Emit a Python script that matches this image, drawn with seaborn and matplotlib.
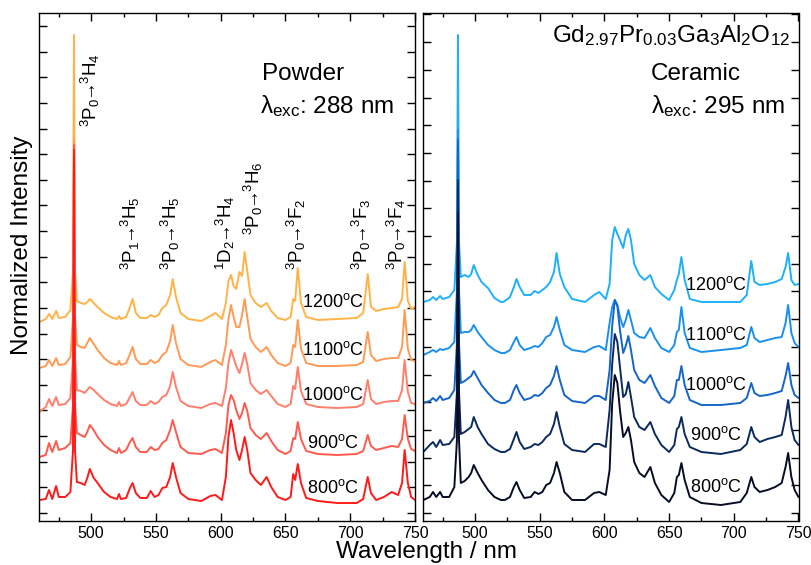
import numpy as np
import pandas as pd
import matplotlib
matplotlib.use("Agg")
import matplotlib.pyplot as plt
from matplotlib.ticker import MultipleLocator
import seaborn as sns

# Emission spectra of Gd2.97Pr0.03Ga3Al2O12, stacked by annealing temperature
wavelength = [460, 465, 467.5, 470, 473, 475, 480, 484, 486, 486.8,
              487.6, 489, 492, 495, 497, 499, 502, 505, 510, 515,
              520, 521.5, 523, 527, 530, 532, 534.5, 538, 543, 546,
              549, 552, 555, 558, 561, 563, 565.5, 569, 575, 585,
              592, 596, 601, 604, 606, 608, 610, 612, 614.5, 616.5,
              618.5, 620.5, 623, 627, 631, 635.5, 639, 644, 650, 654,
              656, 657.5, 659.5, 662, 666, 675, 690, 705, 710, 713.5,
              716, 720, 726, 732, 737, 740, 742, 744.5, 747, 750]

temperatures = [800, 900, 1000, 1100, 1200]

powder_800 = [1, 2, 11, 2, 15, 4, 4, 9, 50, 351,
              50, 19, 18, 16, 23, 32, 23, 18, 9, 4,
              2, 7, 2, 3, 13, 18, 8, 3, 3, 10,
              4, 6, 13, 14, 24, 38, 24, 8, 2, 0,
              5, 6, 1, 24, 64, 81, 68, 51, 41, 51,
              64, 51, 28, 21, 16, 24, 14, 4, 1, 4,
              27, 21, 37, 18, 3, 0, -2, -2, 2, 24,
              8, 1, 4, 9, 6, 18, 51, 18, 4, 1]
powder_900 = [-2, 0, 12, 3, 14, 5, 7, 12, 50, 310,
              50, 22, 20, 18, 23, 30, 25, 18, 10, 5,
              2, 7, 2, 5, 13, 17, 8, 3, 3, 8,
              5, 6, 12, 15, 25, 35, 23, 8, 2, 1,
              5, 6, 2, 22, 50, 60, 55, 45, 36, 42,
              52, 44, 27, 20, 16, 22, 14, 5, 1, 4,
              17, 16, 33, 16, 4, 1, 0, 1, 4, 20,
              9, 5, 7, 9, 8, 16, 40, 16, 6, 4]
powder_1000 = [-4, 1, 9, 2, 11, 3, 4, 10, 50, 263,
               50, 18, 17, 15, 18, 21, 18, 14, 8, 4,
               2, 6, 2, 4, 11, 16, 7, 3, 3, 7,
               4, 6, 11, 13, 22, 36, 21, 7, 2, 0,
               4, 5, 2, 20, 45, 58, 50, 42, 35, 44,
               55, 44, 25, 18, 14, 18, 12, 4, 1, 4,
               22, 19, 41, 17, 4, 1, 0, 1, 4, 28,
               9, 4, 6, 7, 7, 18, 48, 16, 5, 4]
powder_1100 = [-1, 1, 7, 1, 9, 2, 3, 10, 50, 227,
               50, 22, 20, 19, 24, 29, 23, 17, 9, 4,
               2, 6, 2, 4, 13, 20, 8, 3, 3, 7,
               4, 6, 12, 15, 26, 42, 24, 8, 2, 0,
               5, 7, 2, 22, 48, 62, 50, 40, 40, 52,
               68, 50, 28, 20, 15, 20, 12, 4, 1, 4,
               22, 20, 47, 18, 4, 1, 1, 2, 5, 35,
               12, 6, 8, 9, 9, 20, 57, 18, 7, 6]
powder_1200 = [-1, 2, 7, 2, 10, 3, 4, 11, 50, 286,
               50, 20, 18, 17, 19, 22, 18, 14, 8, 4,
               2, 5, 2, 4, 14, 22, 8, 3, 3, 6,
               4, 6, 13, 16, 26, 42, 24, 8, 2, 0,
               5, 8, 2, 18, 40, 46, 35, 32, 49, 45,
               69, 50, 26, 18, 14, 18, 10, 3, 1, 4,
               22, 20, 53, 18, 4, 1, 2, 3, 8, 47,
               14, 10, 12, 13, 14, 22, 59, 20, 12, 14]

ceramic_800 = [0, 3, 8, 3, 8, 3, 3, 13, 60, 287,
               60, 17, 19, 23, 27, 35, 27, 20, 10, 3,
               0, 0, 0, 3, 13, 18, 10, 2, 3, 8,
               6, 8, 15, 17, 27, 38, 27, 8, 0, 0,
               7, 8, 5, 30, 97, 125, 117, 90, 63, 67,
               73, 60, 38, 27, 23, 33, 17, 5, -2, 7,
               23, 25, 37, 20, 3, -3, -5, -2, 7, 23,
               13, 8, 10, 13, 17, 33, 47, 23, 10, 3]
ceramic_900 = [0, 7, 10, 5, 12, 7, 8, 15, 60, 272,
               60, 18, 20, 23, 25, 35, 25, 18, 8, 3,
               0, 0, 0, 3, 13, 20, 10, 3, 5, 8,
               7, 10, 15, 18, 28, 40, 25, 8, 2, 0,
               8, 8, 5, 42, 88, 118, 110, 85, 55, 58,
               70, 55, 35, 25, 22, 30, 18, 7, 0, 7,
               23, 25, 35, 18, 5, 0, -2, 2, 8, 25,
               15, 10, 13, 15, 17, 35, 52, 25, 12, 7]
ceramic_1000 = [0, 2, 5, 2, 7, 3, 5, 13, 60, 263,
                60, 20, 22, 25, 27, 32, 25, 18, 10, 3,
                0, 0, 0, 3, 13, 18, 10, 3, 5, 8,
                7, 10, 15, 18, 27, 37, 23, 8, 2, 0,
                7, 7, 3, 33, 77, 103, 97, 73, 50, 57,
                67, 53, 33, 23, 20, 28, 17, 5, 0, 7,
                23, 23, 37, 18, 3, -2, -2, 0, 5, 20,
                10, 7, 8, 10, 12, 27, 40, 18, 8, 5]
ceramic_1100 = [-5, -2, 0, -2, 1, 0, 2, 8, 60, 220,
                60, 17, 18, 18, 20, 25, 18, 13, 5, 0,
                -3, -3, -3, 0, 8, 13, 5, 0, 2, 4,
                3, 7, 13, 15, 23, 33, 20, 5, 0, -2,
                3, 4, 0, 27, 43, 50, 45, 33, 23, 30,
                40, 30, 17, 13, 12, 22, 12, 2, -2, 5,
                18, 20, 43, 17, 2, -2, 0, 2, 5, 23,
                12, 8, 10, 12, 13, 27, 45, 17, 7, 3]
ceramic_1200 = [0, 2, 5, 2, 6, 3, 5, 12, 60, 267,
                60, 25, 27, 25, 28, 37, 27, 20, 14, 4,
                0, 0, 1, 5, 15, 23, 15, 7, 7, 11,
                9, 12, 15, 20, 30, 49, 28, 15, 3, 0,
                7, 10, 3, 18, 62, 75, 68, 62, 54, 67,
                73, 62, 38, 27, 22, 27, 15, 8, 2, 12,
                22, 28, 45, 22, 3, 0, 0, 0, 7, 41,
                20, 17, 18, 20, 23, 35, 49, 22, 17, 18]

# vertical shift of each trace in the stack
powder_offsets = [12, 58, 105, 146, 192]
ceramic_offsets = [13, 61, 110, 163, 211]

powder_colors = ["#ff1a1a", "#ff5a4c", "#ff7f6c", "#ff9a55", "#ffb347"]
ceramic_colors = ["#060d24", "#0b2a5e", "#1565c8", "#1a90ee", "#1eb0f8"]

powder_label_y = [25, 70, 118, 163, 211]
ceramic_label_y = [26, 78, 128, 178, 228]

transitions = [r"$^3P_0\!\!\rightarrow\!\!^3H_4$", r"$^3P_1\!\!\rightarrow\!\!^3H_5$",
               r"$^3P_0\!\!\rightarrow\!\!^3H_5$", r"$^1D_2\!\!\rightarrow\!\!^3H_4$",
               r"$^3P_0\!\!\rightarrow\!\!^3H_6$", r"$^3P_0\!\!\rightarrow\!\!^3F_2$",
               r"$^3P_0\!\!\rightarrow\!\!^3F_3$", r"$^3P_0\!\!\rightarrow\!\!^3F_4$"]
transition_x = [499.3, 530.1, 561.0, 603.5, 625.2, 658.4, 708.6, 735.6]
transition_y = [386, 243, 243, 243, 278, 243, 243, 243]

sns.set_style("ticks")
plt.rcParams["font.family"] = ["Liberation Sans", "DejaVu Sans"]
plt.rcParams["mathtext.fontset"] = "custom"
plt.rcParams["mathtext.rm"] = "Liberation Sans"
plt.rcParams["mathtext.it"] = "Liberation Sans:italic"
plt.rcParams["mathtext.bf"] = "Liberation Sans:bold"
plt.rcParams["mathtext.default"] = "regular"
for key in ["text.color", "axes.labelcolor", "xtick.color", "ytick.color", "axes.edgecolor"]:
    plt.rcParams[key] = "black"


def stacked_frame(spectra, offsets):
    parts = []
    for t, spec, off in zip(temperatures, spectra, offsets):
        parts.append(pd.DataFrame({"wavelength": wavelength,
                                   "intensity": np.asarray(spec, float) + off,
                                   "temperature": t}))
    return pd.concat(parts, ignore_index=True)


powder = stacked_frame([powder_800, powder_900, powder_1000, powder_1100, powder_1200],
                       powder_offsets)
ceramic = stacked_frame([ceramic_800, ceramic_900, ceramic_1000, ceramic_1100, ceramic_1200],
                        ceramic_offsets)

W, H = 811, 565
fig = plt.figure(figsize=(W / 100, H / 100), dpi=100)
ax_p = fig.add_axes([39.3 / W, (H - 520.5) / H, (415 - 39.3) / W, 507.2 / H])
ax_c = fig.add_axes([423.3 / W, (H - 520.5) / H, (798.5 - 423.3) / W, 507.2 / H])

draw_order = temperatures[::-1]
for ax, df, colors, step in [(ax_p, powder, powder_colors, 25.63),
                             (ax_c, ceramic, ceramic_colors, 27.7)]:
    sns.lineplot(data=df, x="wavelength", y="intensity", hue="temperature",
                 hue_order=draw_order, palette=dict(zip(temperatures, colors)),
                 estimator=None, sort=False, legend=False, lw=1.4, ax=ax)
    ax.set_xlim(460, 750)
    ax.set_ylim(-7.5, 499.7)
    ax.xaxis.set_major_locator(MultipleLocator(50))
    ax.xaxis.set_minor_locator(MultipleLocator(25))
    ax.yaxis.set_major_locator(MultipleLocator(step))
    ax.tick_params(axis="both", which="both", direction="in", top=True, right=True,
                   labelleft=False, labelsize=11.5, width=1.0, color="black",
                   labelcolor="black")
    ax.tick_params(axis="x", which="major", length=5.5, pad=4)
    ax.tick_params(axis="x", which="minor", length=3)
    ax.tick_params(axis="y", which="major", length=5.5)
    ax.set_xlabel("")
    ax.set_ylabel("")
    for s in ax.spines.values():
        s.set_linewidth(1.0)
        s.set_color("black")

for t, y in zip(temperatures, powder_label_y):
    ax_p.text(687, y, f"{t}$^o$C", ha="center", va="center", fontsize=13)
for t, y in zip(temperatures, ceramic_label_y):
    ax_c.text(686, y, f"{t}$^o$C", ha="center", va="center", fontsize=13)

for label, x, y in zip(transitions, transition_x, transition_y):
    ax_p.text(x, y, label, rotation=90, ha="center", va="bottom", fontsize=13.5)

ax_p.text(632, 433, "Powder", ha="left", va="baseline", fontsize=17.5)
ax_p.text(630.5, 400, r"λ$_{exc}$: 288 nm", ha="left", va="baseline", fontsize=17.5)
ax_c.text(743.6, 471, r"Gd$_{2.97}$Pr$_{0.03}$Ga$_3$Al$_2$O$_{12}$",
          ha="right", va="baseline", fontsize=17.5)
ax_c.text(636, 433, "Ceramic", ha="left", va="baseline", fontsize=17.5)
ax_c.text(636, 400, r"λ$_{exc}$: 295 nm", ha="left", va="baseline", fontsize=17.5)

fig.text(22 / W, 1 - 245 / H, "Normalized Intensity", rotation=90,
         ha="center", va="center", fontsize=17.5)
fig.text(427 / W, 1 - 558 / H, "Wavelength / nm", ha="center", va="baseline",
         fontsize=17.5)

fig.savefig("out.png", dpi=100)
